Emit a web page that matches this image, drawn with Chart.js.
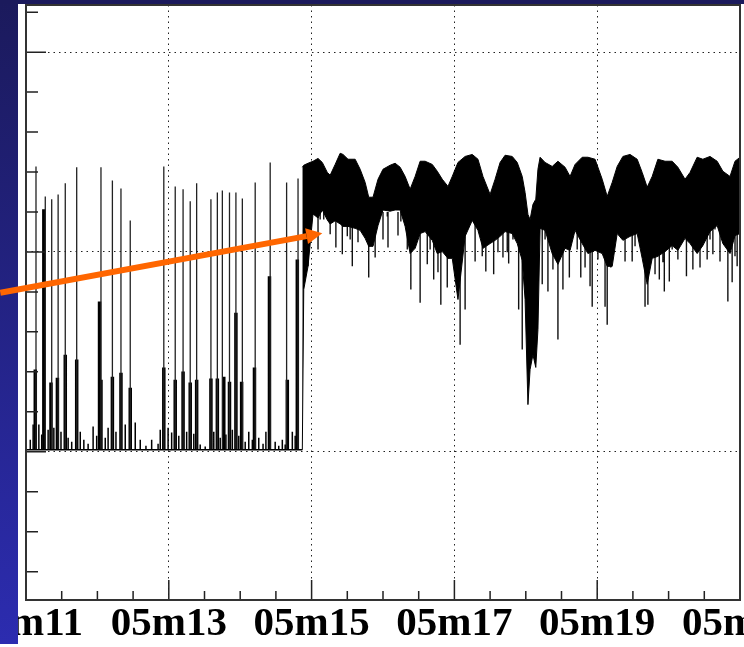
<!DOCTYPE html>
<html>
<head>
<meta charset="utf-8">
<script src="https://cdn.jsdelivr.net/npm/chart.js@4.4.0/dist/chart.umd.min.js"></script>
<style>
  html, body { margin: 0; padding: 0; background: #fff; }
  canvas { display: block; }
</style>
</head>
<body>
<canvas id="chart" width="744" height="647"></canvas>
<script>
// days of May on the time axis, labelled the ROOT way
const dayTicks = [11, 13, 15, 17, 19, 21];
const tickLabels = ["05m11", "05m13", "05m15", "05m17", "05m19", "05m21"];
const gridLevels = [0, 5, 10];
const baseLevel = 0.05;

// small noise on the baseline before the jump
const grassDays = [11.06, 11.10, 11.18, 11.22, 11.31, 11.39, 11.49, 11.59, 11.64, 11.76,
  11.81, 11.87, 11.94, 11.99, 12.11, 12.15, 12.26, 12.39, 12.53, 12.60,
  12.68, 12.76, 12.85, 12.88, 12.99, 13.04, 13.14, 13.25, 13.35, 13.44,
  13.51, 13.63, 13.72, 13.80, 13.89, 13.98, 14.07, 14.12, 14.17, 14.26,
  14.32, 14.36, 14.49, 14.54, 14.59, 14.63, 14.73, 14.77];
const grassTops = [0.30, 0.68, 0.68, 0.43, 0.55, 0.60, 0.50, 0.35, 0.25, 0.50,
  0.30, 0.20, 0.63, 0.40, 0.35, 0.60, 0.50, 0.68, 0.73, 0.30,
  0.15, 0.30, 0.20, 0.55, 0.60, 0.48, 0.40, 0.50, 0.45, 0.18,
  0.13, 0.50, 0.35, 0.43, 0.55, 0.40, 0.25, 0.50, 0.30, 0.35,
  0.20, 0.50, 0.25, 0.15, 0.30, 0.18, 0.50, 0.40];

// tall single spikes
const spikeDays = [11.14, 11.27, 11.36, 11.45, 11.55, 11.71, 12.05, 12.21, 12.33, 12.46,
  12.93, 13.09, 13.20, 13.30, 13.39, 13.59, 13.68, 13.75, 13.85, 13.94,
  14.03, 14.21, 14.42, 14.65, 14.81];
const spikeTops = [7.14, 6.39, 6.32, 6.44, 6.72, 7.12, 7.12, 6.79, 6.59, 5.79,
  7.14, 6.64, 6.57, 6.27, 6.72, 6.32, 6.49, 6.54, 6.49, 6.49,
  6.34, 6.74, 7.24, 6.74, 6.84];

// dense bursts under the spikes
const burstDays = [11.13, 11.25, 11.35, 11.44, 11.55, 11.71, 12.03, 12.05, 12.21, 12.33,
  12.46, 12.93, 13.09, 13.20, 13.30, 13.39, 13.59, 13.68, 13.77, 13.85,
  13.94, 14.02, 14.20, 14.41, 14.66, 14.80];
const burstTops = [2.06, 6.07, 1.73, 1.85, 2.43, 2.31, 3.76, 1.80, 1.88, 1.98,
  1.60, 2.11, 1.80, 2.01, 1.73, 1.80, 1.83, 1.83, 1.88, 1.75,
  3.48, 1.75, 2.11, 4.39, 1.80, 4.81];

// after the jump: upper envelope and lower edge of the solid band
const bandDays = [14.87, 14.89, 14.95, 15.02, 15.09, 15.15, 15.22, 15.26, 15.33, 15.40,
  15.44, 15.51, 15.61, 15.68, 15.75, 15.80, 15.86, 15.93, 16.00, 16.10,
  16.17, 16.24, 16.31, 16.38, 16.45, 16.52, 16.59, 16.69, 16.76, 16.83,
  16.91, 16.97, 17.05, 17.15, 17.25, 17.33, 17.40, 17.50, 17.57, 17.64,
  17.71, 17.81, 17.88, 17.95, 17.99, 18.03, 18.06, 18.10, 18.14, 18.17,
  18.20, 18.27, 18.37, 18.45, 18.55, 18.62, 18.69, 18.79, 18.87, 18.97,
  19.07, 19.14, 19.21, 19.28, 19.36, 19.46, 19.56, 19.63, 19.70, 19.77,
  19.85, 19.95, 20.05, 20.13, 20.23, 20.30, 20.40, 20.48, 20.58, 20.68,
  20.76, 20.86, 20.93, 21.00];
const bandHigh = [7.12, 7.17, 7.22, 7.27, 7.34, 7.24, 6.99, 6.92, 7.19, 7.47,
  7.44, 7.32, 7.32, 7.07, 6.74, 6.37, 6.37, 6.82, 7.07, 7.17,
  7.22, 7.12, 6.89, 6.57, 6.89, 7.27, 7.27, 7.19, 7.02, 6.82,
  6.64, 6.89, 7.24, 7.39, 7.44, 7.32, 6.89, 6.44, 6.82, 7.24,
  7.42, 7.39, 7.24, 6.89, 6.49, 5.94, 5.81, 6.19, 6.32, 7.07,
  7.37, 7.24, 7.14, 7.27, 7.12, 6.89, 7.19, 7.37, 7.37, 7.32,
  6.82, 6.39, 6.74, 7.14, 7.39, 7.44, 7.32, 6.99, 6.62, 6.89,
  7.32, 7.27, 7.27, 7.12, 6.82, 6.99, 7.37, 7.32, 7.39, 7.27,
  7.02, 6.89, 7.27, 7.37];
const bandLow = [0.05, 4.06, 4.64, 5.95, 5.85, 6.05, 5.80, 5.70, 5.78, 5.70,
  5.64, 5.64, 5.59, 5.54, 5.34, 5.14, 5.14, 5.66, 6.05, 6.02,
  6.05, 6.05, 5.64, 4.96, 5.09, 5.46, 5.51, 5.29, 4.96, 5.01,
  4.84, 4.84, 3.81, 5.39, 5.79, 5.54, 5.09, 5.21, 5.29, 5.39,
  5.51, 5.46, 5.21, 4.79, 3.81, 1.18, 2.06, 2.43, 2.11, 3.06,
  5.59, 5.54, 4.96, 4.69, 5.09, 5.04, 5.54, 5.21, 4.96, 5.04,
  4.96, 4.64, 4.64, 5.46, 5.29, 5.39, 5.46, 4.84, 4.19, 4.84,
  4.89, 5.01, 5.16, 5.04, 5.34, 5.21, 4.96, 5.16, 5.51, 5.66,
  5.21, 4.96, 5.41, 5.46];

// thin drops below the band
const dipDays = [14.95, 15.09, 15.12, 15.17, 15.26, 15.34, 15.43, 15.50, 15.54, 15.57,
  15.65, 15.71, 15.80, 15.89, 15.96, 16.00, 16.06, 16.07, 16.21, 16.25,
  16.34, 16.39, 16.52, 16.62, 16.66, 16.71, 16.77, 16.81, 16.90, 17.01,
  17.08, 17.15, 17.29, 17.39, 17.44, 17.55, 17.61, 17.68, 17.74, 17.76,
  17.82, 17.90, 17.95, 18.23, 18.27, 18.31, 18.38, 18.45, 18.52, 18.56,
  18.61, 18.72, 18.77, 18.80, 18.83, 18.90, 18.93, 19.01, 19.11, 19.14,
  19.19, 19.25, 19.32, 19.39, 19.49, 19.53, 19.67, 19.71, 19.81, 19.87,
  19.92, 19.94, 20.01, 20.05, 20.13, 20.25, 20.34, 20.44, 20.47, 20.54,
  20.58, 20.62, 20.65, 20.72, 20.75, 20.83, 20.89, 20.93, 20.96];
const dipLows = [4.64, 5.06, 5.81, 5.81, 5.44, 5.11, 4.94, 5.39, 5.31, 4.64,
  5.24, 5.49, 4.36, 4.86, 5.89, 5.31, 5.89, 5.11, 5.41, 5.76,
  5.06, 4.06, 3.73, 4.69, 5.06, 4.31, 4.49, 3.68, 4.11, 4.56,
  2.68, 3.56, 4.76, 4.89, 4.51, 4.44, 4.99, 4.86, 4.99, 4.71,
  5.31, 3.56, 2.56, 4.19, 5.31, 4.01, 4.56, 2.81, 4.06, 5.14,
  4.36, 5.06, 4.36, 5.31, 4.61, 4.14, 3.63, 4.81, 3.63, 3.18,
  4.61, 5.49, 5.56, 4.76, 4.76, 5.14, 3.63, 3.68, 4.44, 4.31,
  4.74, 4.01, 4.26, 5.06, 4.81, 4.39, 4.56, 4.61, 5.14, 4.81,
  5.31, 4.94, 5.56, 4.76, 5.31, 3.76, 4.24, 4.89, 4.64];
const dipFrom = 6.0;

// orange arrow pointing at the jump (day, value)
const arrowFrom = [10.64, 3.98];
const arrowTo = [15.15, 5.47];

// vertical strokes, one per entry, broken by gaps
function verticals(days, tops, from) {
  const pts = [];
  days.forEach((d, i) => {
    pts.push({ x: d, y: from }, { x: d, y: tops[i] }, { x: d, y: null });
  });
  return pts;
}

function grassPath() {
  const pts = [{ x: 11, y: baseLevel }];
  grassDays.forEach((d, i) => {
    pts.push({ x: d, y: baseLevel }, { x: d, y: grassTops[i] }, { x: d, y: baseLevel });
  });
  pts.push({ x: bandDays[0], y: baseLevel });
  return pts;
}

const lineStyle = (color, width) => ({
  borderColor: color, borderWidth: width, pointRadius: 0, fill: false,
  tension: 0, spanGaps: false, borderCapStyle: "butt", borderJoinStyle: "bevel"
});

const frame = {
  id: "frame",
  afterDatasetsDraw(chart) {
    const { ctx, chartArea: a, scales: { x, y } } = chart;
    ctx.save();
    ctx.strokeStyle = "#222";
    ctx.lineWidth = 1.5;
    ctx.beginPath();
    for (let d = 11; d <= 21; d += 0.5) {
      const px = x.getPixelForValue(d);
      const len = dayTicks.includes(d) ? 20 : 9;
      ctx.moveTo(px, a.bottom);
      ctx.lineTo(px, a.bottom - len);
    }
    for (let v = -3; v <= 11; v++) {
      const py = y.getPixelForValue(v);
      const len = gridLevels.includes(v) ? 20 : 12;
      ctx.moveTo(a.left, py);
      ctx.lineTo(a.left + len, py);
    }
    ctx.stroke();
    ctx.strokeStyle = "#333";
    ctx.lineWidth = 2;
    ctx.strokeRect(a.left, a.top, a.right - a.left, a.bottom - a.top);
    ctx.restore();
  },
  afterDraw(chart) {
    const { ctx, scales: { x, y } } = chart;
    const h = chart.height;
    ctx.save();
    // slide background peeking in at the left and top
    const g = ctx.createLinearGradient(0, 0, 0, h);
    g.addColorStop(0, "#1b1a5c");
    g.addColorStop(1, "#2c2cb0");
    ctx.fillStyle = g;
    ctx.fillRect(0, 0, 18, h - 3);
    ctx.fillStyle = "#1b1a5c";
    ctx.fillRect(0, 0, chart.width, 4);

    // arrow
    const x0 = x.getPixelForValue(arrowFrom[0]), y0 = y.getPixelForValue(arrowFrom[1]);
    const x1 = x.getPixelForValue(arrowTo[0]), y1 = y.getPixelForValue(arrowTo[1]);
    const ang = Math.atan2(y1 - y0, x1 - x0);
    const headLen = 16, headW = 8;
    const bx = x1 - headLen * Math.cos(ang), by = y1 - headLen * Math.sin(ang);
    ctx.strokeStyle = "#ff6600";
    ctx.fillStyle = "#ff6600";
    ctx.lineWidth = 6;
    ctx.beginPath();
    ctx.moveTo(x0, y0);
    ctx.lineTo(bx, by);
    ctx.stroke();
    ctx.beginPath();
    ctx.moveTo(x1, y1);
    ctx.lineTo(bx + headW * Math.sin(ang), by - headW * Math.cos(ang));
    ctx.lineTo(bx - headW * Math.sin(ang), by + headW * Math.cos(ang));
    ctx.closePath();
    ctx.fill();
    ctx.restore();
  }
};

new Chart(document.getElementById("chart"), {
  type: "line",
  data: {
    datasets: [
      { data: grassPath(), ...lineStyle("#000", 1.5) },
      { data: verticals(spikeDays, spikeTops, baseLevel), ...lineStyle("#222", 1.3) },
      { data: verticals(burstDays, burstTops, baseLevel), ...lineStyle("#000", 3.5) },
      { data: bandDays.map((d, i) => ({ x: d, y: bandHigh[i] })), ...lineStyle("#000", 1),
        fill: "+1", backgroundColor: "#000" },
      { data: bandDays.map((d, i) => ({ x: d, y: bandLow[i] })), ...lineStyle("#000", 1) },
      { data: verticals(dipDays, dipLows, dipFrom), ...lineStyle("#111", 1.4) }
    ]
  },
  options: {
    responsive: false,
    animation: false,
    devicePixelRatio: 1,
    layout: { autoPadding: false, padding: { left: 26, right: 4, top: 5, bottom: 0 } },
    plugins: { legend: { display: false }, tooltip: { enabled: false } },
    scales: {
      x: {
        type: "linear", min: 11, max: 21,
        afterBuildTicks: s => { s.ticks = dayTicks.map(v => ({ value: v })); },
        afterFit: s => { s.height = 47; s.paddingLeft = 0; s.paddingRight = 0; },
        ticks: {
          callback: (v, i) => tickLabels[i],
          autoSkip: false, maxRotation: 0, padding: 0, color: "#000",
          font: { family: "Liberation Serif", weight: "bold", size: 41 }
        },
        grid: { color: "#222", lineWidth: 1, drawTicks: false },
        border: { display: false, dash: [1.5, 4] }
      },
      y: {
        type: "linear", min: -3.71, max: 11.18,
        afterBuildTicks: s => { s.ticks = gridLevels.map(v => ({ value: v })); },
        afterFit: s => { s.width = 0; s.paddingTop = 0; s.paddingBottom = 0; },
        ticks: { display: false },
        grid: { color: "#222", lineWidth: 1, drawTicks: false },
        border: { display: false, dash: [1.5, 4] }
      }
    }
  },
  plugins: [frame]
});
</script>
</body>
</html>
